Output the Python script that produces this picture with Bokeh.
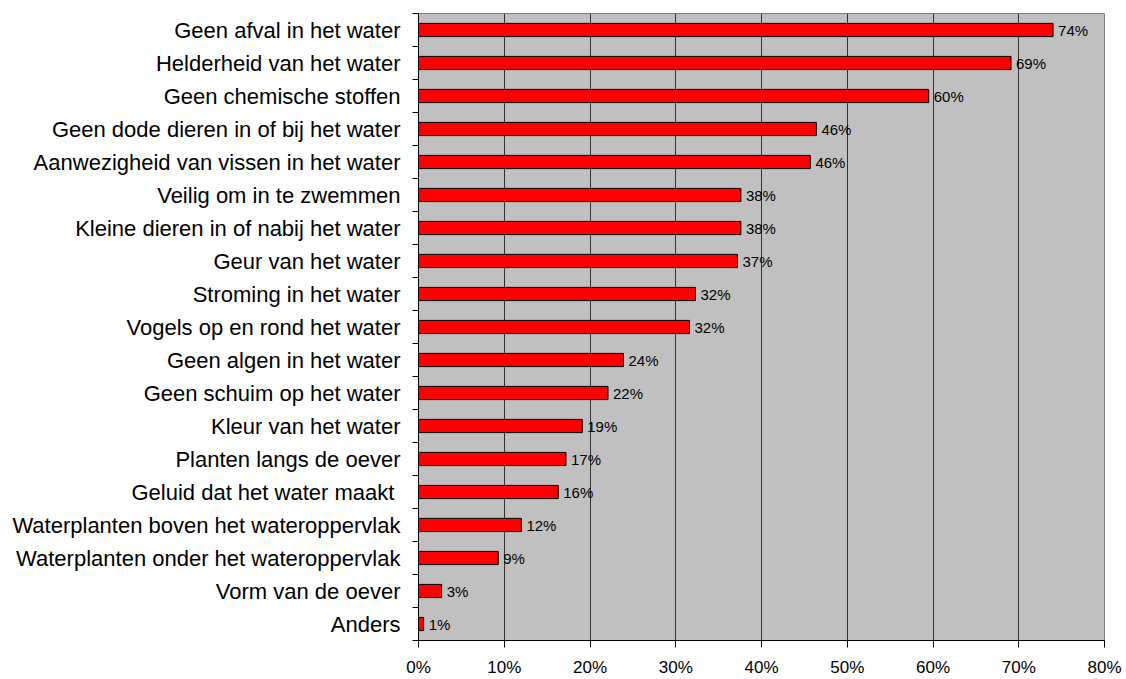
from bokeh.plotting import figure
from bokeh.models import ColumnDataSource, Range1d, FixedTicker, PrintfTickFormatter
from bokeh.core.properties import value
from bokeh.embed import file_html
from bokeh.resources import INLINE

categories = [
    "Geen afval in het water",
    "Helderheid van het water",
    "Geen chemische stoffen",
    "Geen dode dieren in of bij het water",
    "Aanwezigheid van vissen in het water",
    "Veilig om in te zwemmen",
    "Kleine dieren in of nabij het water",
    "Geur van het water",
    "Stroming in het water",
    "Vogels op en rond het water",
    "Geen algen in het water",
    "Geen schuim op het water",
    "Kleur van het water",
    "Planten langs de oever",
    "Geluid dat het water maakt ",
    "Waterplanten boven het wateroppervlak",
    "Waterplanten onder het wateroppervlak",
    "Vorm van de oever",
    "Anders",
]
values = [74.0, 69.1, 59.5, 46.4, 45.7, 37.6, 37.6, 37.2, 32.3, 31.6,
          23.9, 22.1, 19.1, 17.2, 16.3, 12.0, 9.3, 2.7, 0.6]
value_labels = ["74%", "69%", "60%", "46%", "46%", "38%", "38%", "37%", "32%", "32%",
                "24%", "22%", "19%", "17%", "16%", "12%", "9%", "3%", "1%"]
x_ticks = [0, 10, 20, 30, 40, 50, 60, 70, 80]

n = len(categories)
ypos = [n - i - 0.5 for i in range(n)]
src = ColumnDataSource(dict(y=ypos, v=values, lab=value_labels, cat=categories))

p = figure(width=1126, height=679, output_backend="svg", toolbar_location=None,
           x_range=Range1d(0, 80), y_range=Range1d(0, n),
           min_border_left=418, min_border_right=22, min_border_top=13, min_border_bottom=37)
p.background_fill_color = "#C0C0C0"
p.border_fill_color = "white"
p.outline_line_color = "#808080"
p.outline_line_width = 1

p.hbar(y="y", left=0, right="v", height=0.4, source=src,
       fill_color="#FF0000", line_color="black", line_width=1)
p.text(x="v", y="y", text="lab", source=src, x_offset=5,
       text_font=value("Liberation Sans"), text_font_size="15px",
       text_baseline="middle", text_align="left", text_color="black")

# x axis
p.xaxis.ticker = FixedTicker(ticks=x_ticks)
p.xaxis.formatter = PrintfTickFormatter(format="%d%%")
p.xaxis.major_label_text_font = "Liberation Sans"
p.xaxis.major_label_text_font_size = "17px"
p.xaxis.major_label_text_color = "black"
p.xaxis.major_tick_in = 0
p.xaxis.major_tick_out = 7
p.xaxis.major_tick_line_color = "black"
p.xaxis.minor_tick_line_color = None
p.xaxis.axis_line_color = "black"
p.xaxis.major_label_standoff = 10

# y axis
p.yaxis.ticker = FixedTicker(ticks=ypos, minor_ticks=list(range(n + 1)))
p.yaxis.major_label_overrides = {float(y): c for y, c in zip(ypos, categories)}
p.yaxis.major_label_text_font = "Liberation Sans"
p.yaxis.major_label_text_font_size = "22px"
p.yaxis.major_label_text_color = "black"
p.yaxis.major_tick_line_color = None
p.yaxis.major_tick_in = 0
p.yaxis.major_tick_out = 0
p.yaxis.minor_tick_in = 0
p.yaxis.minor_tick_out = 6
p.yaxis.minor_tick_line_color = "black"
p.yaxis.axis_line_color = "black"
p.yaxis.major_label_standoff = 12

p.xgrid.ticker = FixedTicker(ticks=x_ticks)
p.xgrid.grid_line_color = "#333333"
p.xgrid.grid_line_width = 1
p.ygrid.grid_line_color = None

open("out.html", "w").write(file_html(p, INLINE))
